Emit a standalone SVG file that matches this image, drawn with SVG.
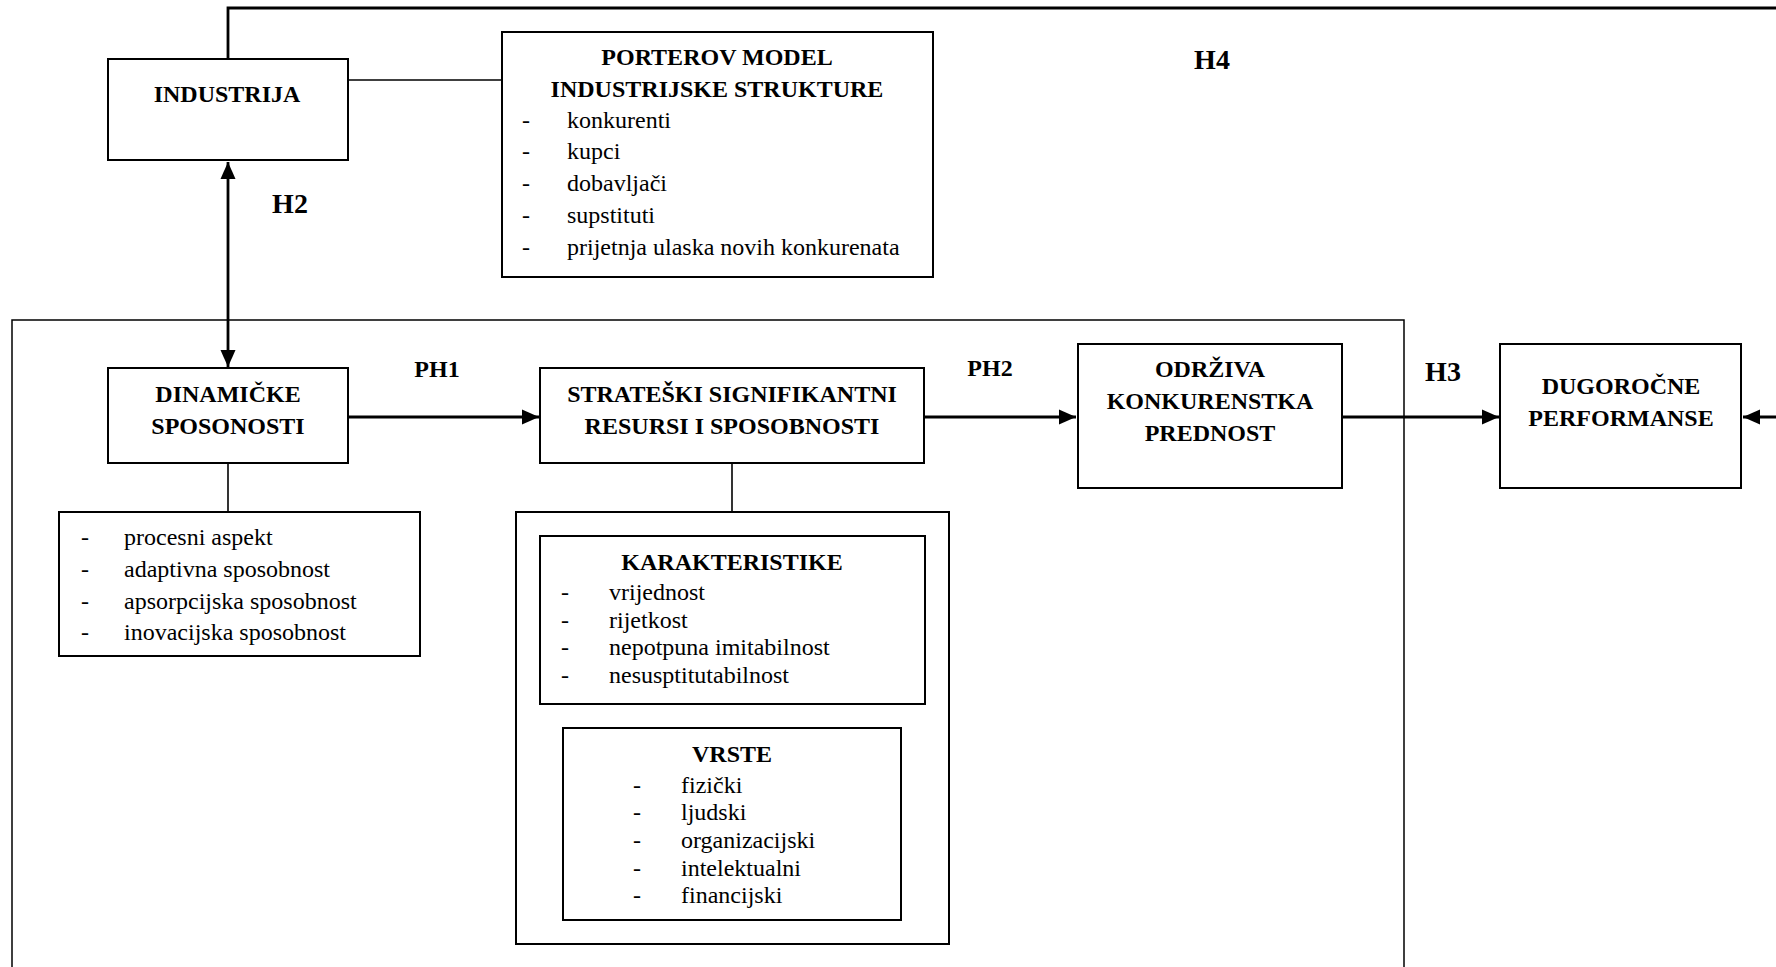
<svg xmlns="http://www.w3.org/2000/svg" width="1776" height="967" viewBox="0 0 1776 967">
<style>
text{font-family:"Liberation Serif","Times New Roman",serif;font-size:24px;fill:#000}
.b{font-weight:bold}
.c{text-anchor:middle}
.h{font-weight:bold;font-size:28px}
.box{fill:#fff;stroke:#000;stroke-width:2}
.ln{fill:none;stroke:#000;stroke-width:1.6}
.ar{fill:none;stroke:#000;stroke-width:2.8}
</style>
<defs>
<marker id="ah" markerUnits="userSpaceOnUse" markerWidth="18" markerHeight="16" refX="17" refY="7.5" orient="auto-start-reverse" viewBox="0 0 18 15">
<path d="M0,0 L17,7.5 L0,15 z" fill="#000"/>
</marker>
</defs>
<rect width="1776" height="967" fill="#fff"/>

<g id="container">
<path d="M12,967 V320 H1404 V967" fill="none" stroke="#000" stroke-width="1.5"/>
</g>

<g id="connectors">
<path class="ar" d="M228,59 V8 H1790 V417 H1743" marker-end="url(#ah)"/>
<path class="ln" d="M348,80 H502"/>
<path class="ar" d="M228,162 V367" marker-start="url(#ah)" marker-end="url(#ah)"/>
<path class="ar" d="M348,417 H539" marker-end="url(#ah)"/>
<path class="ar" d="M924,417 H1076" marker-end="url(#ah)"/>
<path class="ar" d="M1342,417 H1499" marker-end="url(#ah)"/>
<path class="ln" d="M228,463 V512"/>
<path class="ln" d="M732,463 V512"/>
</g>

<g id="labels">
<text class="h c" x="290" y="213">H2</text>
<text class="h c" x="1212" y="69">H4</text>
<text class="b c" x="437" y="377">PH1</text>
<text class="b c" x="990" y="376">PH2</text>
<text class="h c" x="1443" y="381">H3</text>
</g>

<g id="industrija">
<rect class="box" x="108" y="59" width="240" height="101"/>
<text class="b c" x="227" y="102">INDUSTRIJA</text>
</g>

<g id="porter">
<rect class="box" x="502" y="32" width="431" height="245"/>
<text class="b c" x="717" y="65">PORTEROV MODEL</text>
<text class="b c" x="717" y="97">INDUSTRIJSKE STRUKTURE</text>
<text x="522" y="128">-</text><text x="567" y="128">konkurenti</text>
<text x="522" y="159">-</text><text x="567" y="159">kupci</text>
<text x="522" y="191">-</text><text x="567" y="191">dobavljači</text>
<text x="522" y="223">-</text><text x="567" y="223">supstituti</text>
<text x="522" y="255">-</text><text x="567" y="255">prijetnja ulaska novih konkurenata</text>
</g>

<g id="dinamicke">
<rect class="box" x="108" y="368" width="240" height="95"/>
<text class="b c" x="228" y="402">DINAMIČKE</text>
<text class="b c" x="228" y="434">SPOSONOSTI</text>
</g>

<g id="dinamicke-list">
<rect class="box" x="59" y="512" width="361" height="144"/>
<text x="81" y="545">-</text><text x="124" y="545">procesni aspekt</text>
<text x="81" y="577">-</text><text x="124" y="577">adaptivna sposobnost</text>
<text x="81" y="609">-</text><text x="124" y="609">apsorpcijska sposobnost</text>
<text x="81" y="640">-</text><text x="124" y="640">inovacijska sposobnost</text>
</g>

<g id="strateski">
<rect class="box" x="540" y="368" width="384" height="95"/>
<text class="b c" x="732" y="402">STRATEŠKI SIGNIFIKANTNI</text>
<text class="b c" x="732" y="434">RESURSI I SPOSOBNOSTI</text>
</g>

<g id="resursi">
<rect class="box" x="516" y="512" width="433" height="432"/>
</g>

<g id="karakteristike">
<rect class="box" x="540" y="536" width="385" height="168"/>
<text class="b c" x="732" y="570">KARAKTERISTIKE</text>
<text x="561" y="600">-</text><text x="609" y="600">vrijednost</text>
<text x="561" y="628">-</text><text x="609" y="628">rijetkost</text>
<text x="561" y="655">-</text><text x="609" y="655">nepotpuna imitabilnost</text>
<text x="561" y="683">-</text><text x="609" y="683">nesusptitutabilnost</text>
</g>

<g id="vrste">
<rect class="box" x="563" y="728" width="338" height="192"/>
<text class="b c" x="732" y="762">VRSTE</text>
<text x="633" y="793">-</text><text x="681" y="793">fizički</text>
<text x="633" y="820">-</text><text x="681" y="820">ljudski</text>
<text x="633" y="848">-</text><text x="681" y="848">organizacijski</text>
<text x="633" y="876">-</text><text x="681" y="876">intelektualni</text>
<text x="633" y="903">-</text><text x="681" y="903">financijski</text>
</g>

<g id="odrziva">
<rect class="box" x="1078" y="344" width="264" height="144"/>
<text class="b c" x="1210" y="377">ODRŽIVA</text>
<text class="b c" x="1210" y="409">KONKURENSTKA</text>
<text class="b c" x="1210" y="441">PREDNOST</text>
</g>

<g id="dugorocne">
<rect class="box" x="1500" y="344" width="241" height="144"/>
<text class="b c" x="1621" y="394">DUGOROČNE</text>
<text class="b c" x="1621" y="426">PERFORMANSE</text>
</g>
</svg>
